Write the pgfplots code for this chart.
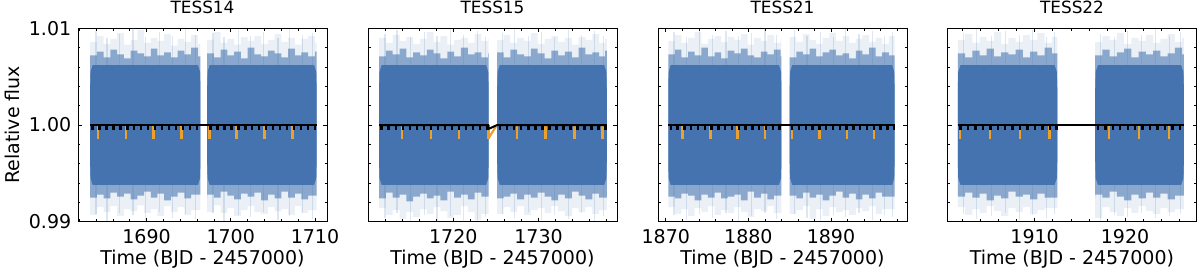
\documentclass[border=0pt]{standalone}
\usepackage{fontspec}
\setmainfont{DejaVu Sans}
\usepackage{pgfplots}
\pgfplotsset{compat=1.18}
\definecolor{band}{HTML}{4473AF}
\definecolor{orng}{HTML}{EDA12D}
\pgfplotsset{
 panel/.style={
  scale only axis, width=249pt, height=193.4pt,
  anchor=south west,
  ymin=0.99, ymax=1.01,
  ytick={0.99,1.00,1.01},
  minor ytick={0.992,0.994,0.996,0.998,1.002,1.004,1.006,1.008},
  tick align=inside, xtick pos=both, ytick pos=both,
  major tick length=4pt, minor tick length=2.5pt,
  every tick/.style={black, line width=0.6pt},
  axis line style={line width=0.9pt},
  tick label style={font=\fontsize{19}{22}\selectfont},
  xticklabel style={anchor=base, yshift=-21.6pt},
  yticklabel style={anchor=east, inner sep=0pt, xshift=-6.6pt},
  label style={font=\fontsize{19}{22}\selectfont},
  xlabel={Time (BJD - 2457000)},
  xlabel style={at={(axis description cs:0.5,0)}, anchor=base, yshift=-42.3pt},
  ylabel style={at={(axis description cs:-0.2361,0.5)}, anchor=base},
  title style={font=\fontsize{16.9}{19}\selectfont, at={(axis description cs:0.5,1)}, anchor=base, yshift=9.3pt},
  outer/.style={fill=band, fill opacity=0.11, draw=none, const plot, forget plot},
  mid/.style={fill=band, fill opacity=0.58, draw=none, const plot, forget plot},
  core/.style={fill=band, draw=none, forget plot},
  streak/.style={draw=none, forget plot, error bars/.cd, y dir=both, y explicit, error mark=none, error bar style={draw=band, line width=1.2pt, opacity=0.18}},
  odip/.style={draw=none, forget plot, error bars/.cd, y dir=minus, y explicit, error mark=none, error bar style={draw=orng, line width=2.4pt}},
  bdip/.style={draw=none, forget plot, error bars/.cd, y dir=minus, y explicit, error mark=none, error bar style={draw=black, line width=2.4pt}},
 }
}
\begin{document}
\begin{tikzpicture}
\path[use as bounding box] (0,0) rectangle (1200pt,279pt);
% ---------------- TESS14
\begin{axis}[panel, at={(78pt,57.3pt)}, xmin=1681.86, xmax=1711.43,
  xtick={1690,1700,1710}, xticklabels={1690,1700,1710}, minor xtick={1682,1684,...,1710},
  yticklabels={0.99,1.00,1.01}, ylabel={Relative flux}, title={TESS14}]
\addplot[outer] coordinates {(1683.3,1.0086)(1684.1,1.0092)(1684.9,1.0084)(1685.7,1.0089)(1686.5,1.0095)(1687.3,1.0083)(1688.1,1.0088)(1688.9,1.0098)(1689.7,1.0085)(1690.5,1.0090)(1691.3,1.0087)(1692.1,1.0094)(1692.9,1.0082)(1693.7,1.0089)(1694.5,1.0086)(1695.3,1.0093)(1696.1,1.0084)(1696.4,1.0084)
 (1696.4,0.9912)(1696.1,0.9912)(1695.3,0.9907)(1694.5,0.9915)(1693.7,0.9910)(1692.9,0.9916)(1692.1,0.9906)(1691.3,0.9913)(1690.5,0.9909)(1689.7,0.9917)(1688.9,0.9911)(1688.1,0.9913)(1687.3,0.9906)(1686.5,0.9916)(1685.7,0.9910)(1684.9,0.9915)(1684.1,0.9907)(1683.3,0.9912)} -- cycle;
\addplot[outer] coordinates {(1697.2,1.0088)(1698.0,1.0096)(1698.8,1.0085)(1699.6,1.0089)(1700.4,1.0083)(1701.2,1.0091)(1702.0,1.0087)(1702.8,1.0092)(1703.6,1.0084)(1704.4,1.0088)(1705.2,1.0094)(1706.0,1.0086)(1706.8,1.0090)(1707.6,1.0083)(1708.4,1.0089)(1709.2,1.0092)(1710.0,1.0085)(1710.2,1.0085)
 (1710.2,0.9912)(1710.0,0.9912)(1709.2,0.9909)(1708.4,0.9916)(1707.6,0.9907)(1706.8,0.9913)(1706.0,0.9911)(1705.2,0.9915)(1704.4,0.9908)(1703.6,0.9910)(1702.8,0.9916)(1702.0,0.9912)(1701.2,0.9906)(1700.4,0.9914)(1699.6,0.9909)(1698.8,0.9917)(1698.0,0.9910)(1697.2,0.9913)} -- cycle;
\addplot[streak] coordinates {(1684.0,1) += (0,0.0097) -= (0,0.0092) (1685.3,1) += (0,0.0090) -= (0,0.0099) (1686.8,1) += (0,0.0094) -= (0,0.0091) (1688.4,1) += (0,0.0100) -= (0,0.0093) (1689.9,1) += (0,0.0091) -= (0,0.0098) (1691.5,1) += (0,0.0096) -= (0,0.0090) (1693.1,1) += (0,0.0092) -= (0,0.0096) (1694.6,1) += (0,0.0099) -= (0,0.0092) (1695.8,1) += (0,0.0093) -= (0,0.0097)
 (1697.9,1) += (0,0.0095) -= (0,0.0091) (1699.2,1) += (0,0.0091) -= (0,0.0099) (1700.9,1) += (0,0.0098) -= (0,0.0093) (1702.3,1) += (0,0.0092) -= (0,0.0095) (1703.9,1) += (0,0.0096) -= (0,0.0090) (1705.6,1) += (0,0.0090) -= (0,0.0098) (1707.0,1) += (0,0.0099) -= (0,0.0094) (1708.5,1) += (0,0.0093) -= (0,0.0091) (1709.7,1) += (0,0.0095) -= (0,0.0097)};
\addplot[mid] coordinates {(1683.3,1.0072)(1684.1,1.0076)(1684.9,1.0070)(1685.7,1.0078)(1686.5,1.0073)(1687.3,1.0069)(1688.1,1.0077)(1688.9,1.0074)(1689.7,1.0071)(1690.5,1.0079)(1691.3,1.0072)(1692.1,1.0075)(1692.9,1.0070)(1693.7,1.0077)(1694.5,1.0073)(1695.3,1.0080)(1696.1,1.0071)(1696.4,1.0071)
 (1696.4,0.9928)(1696.1,0.9928)(1695.3,0.9924)(1694.5,0.9930)(1693.7,0.9926)(1692.9,0.9922)(1692.1,0.9929)(1691.3,0.9925)(1690.5,0.9931)(1689.7,0.9927)(1688.9,0.9923)(1688.1,0.9929)(1687.3,0.9926)(1686.5,0.9930)(1685.7,0.9924)(1684.9,0.9928)(1684.1,0.9925)(1683.3,0.9929)} -- cycle;
\addplot[mid] coordinates {(1697.2,1.0074)(1698.0,1.0070)(1698.8,1.0078)(1699.6,1.0072)(1700.4,1.0076)(1701.2,1.0069)(1702.0,1.0080)(1702.8,1.0073)(1703.6,1.0071)(1704.4,1.0077)(1705.2,1.0074)(1706.0,1.0070)(1706.8,1.0079)(1707.6,1.0072)(1708.4,1.0075)(1709.2,1.0071)(1710.0,1.0076)(1710.2,1.0076)
 (1710.2,0.9927)(1710.0,0.9927)(1709.2,0.9923)(1708.4,0.9929)(1707.6,0.9925)(1706.8,0.9931)(1706.0,0.9924)(1705.2,0.9928)(1704.4,0.9922)(1703.6,0.9930)(1702.8,0.9926)(1702.0,0.9929)(1701.2,0.9923)(1700.4,0.9927)(1699.6,0.9931)(1698.8,0.9925)(1698.0,0.9928)(1697.2,0.9924)} -- cycle;
\addplot[core] coordinates {(1683.3,0.9962)(1683.35,0.9945)(1683.6,0.9938)(1696.1,0.9938)(1696.35,0.9945)(1696.4,0.9962)(1696.4,1.0038)(1696.35,1.0055)(1696.1,1.0062)(1683.6,1.0062)(1683.35,1.0055)(1683.3,1.0038)} -- cycle;
\addplot[core] coordinates {(1697.2,0.9962)(1697.25,0.9945)(1697.5,0.9938)(1709.9,0.9938)(1710.15,0.9945)(1710.2,0.9962)(1710.2,1.0038)(1710.15,1.0055)(1709.9,1.0062)(1697.5,1.0062)(1697.25,1.0055)(1697.2,1.0038)} -- cycle;
\addplot[odip] coordinates {(1684.24,1) +- (0,0.00145) (1687.54,1) +- (0,0.00145) (1690.83,1) +- (0,0.00145) (1694.17,1) +- (0,0.00145) (1697.46,1) +- (0,0.00145) (1700.70,1) +- (0,0.00145) (1703.99,1) +- (0,0.00145) (1707.33,1) +- (0,0.00145)};
\addplot[black, line width=2pt, forget plot] coordinates {(1683.3,1) (1710.2,1)};
\addplot[bdip] coordinates {(1683.60,1) +- (0,0.0005) (1684.42,1) +- (0,0.0005) (1685.25,1) +- (0,0.0005) (1686.07,1) +- (0,0.0005) (1686.90,1) +- (0,0.0005) (1687.72,1) +- (0,0.0005) (1688.54,1) +- (0,0.0005) (1689.37,1) +- (0,0.0005) (1690.19,1) +- (0,0.0005) (1691.02,1) +- (0,0.0005) (1691.84,1) +- (0,0.0005) (1692.66,1) +- (0,0.0005) (1693.49,1) +- (0,0.0005) (1694.31,1) +- (0,0.0005) (1695.14,1) +- (0,0.0005) (1695.96,1) +- (0,0.0005)
 (1697.61,1) +- (0,0.0005) (1698.43,1) +- (0,0.0005) (1699.26,1) +- (0,0.0005) (1700.08,1) +- (0,0.0005) (1700.90,1) +- (0,0.0005) (1701.73,1) +- (0,0.0005) (1702.55,1) +- (0,0.0005) (1703.38,1) +- (0,0.0005) (1704.20,1) +- (0,0.0005) (1705.02,1) +- (0,0.0005) (1705.85,1) +- (0,0.0005) (1706.67,1) +- (0,0.0005) (1707.50,1) +- (0,0.0005) (1708.32,1) +- (0,0.0005) (1709.14,1) +- (0,0.0005) (1709.97,1) +- (0,0.0005)};
\end{axis}
% ---------------- TESS15
\begin{axis}[panel, at={(368pt,57.3pt)}, xmin=1710.0, xmax=1739.2,
  xtick={1720,1730}, xticklabels={1720,1730}, minor xtick={1710,1712,...,1738},
  yticklabels={}, title={TESS15}]
\addplot[outer] coordinates {(1711.3,1.0090)(1712.1,1.0085)(1712.9,1.0093)(1713.7,1.0087)(1714.5,1.0091)(1715.3,1.0084)(1716.1,1.0089)(1716.9,1.0096)(1717.7,1.0086)(1718.5,1.0092)(1719.3,1.0083)(1720.1,1.0088)(1720.9,1.0090)(1721.7,1.0085)(1722.5,1.0094)(1723.3,1.0087)(1724.1,1.0089)(1724.15,1.0089)
 (1724.15,0.9908)(1724.1,0.9908)(1723.3,0.9902)(1722.5,0.9910)(1721.7,0.9916)(1720.9,0.9907)(1720.1,0.9904)(1719.3,0.9911)(1718.5,0.9915)(1717.7,0.9908)(1716.9,0.9913)(1716.1,0.9905)(1715.3,0.9910)(1714.5,0.9903)(1713.7,0.9912)(1712.9,0.9907)(1712.1,0.9914)(1711.3,0.9909)} -- cycle;
\addplot[outer] coordinates {(1725.15,1.0088)(1725.9,1.0093)(1726.7,1.0085)(1727.5,1.0090)(1728.3,1.0087)(1729.1,1.0095)(1729.9,1.0084)(1730.7,1.0089)(1731.5,1.0092)(1732.3,1.0086)(1733.1,1.0090)(1733.9,1.0083)(1734.7,1.0091)(1735.5,1.0088)(1736.3,1.0094)(1737.1,1.0085)(1737.8,1.0089)(1738.0,1.0089)
 (1738.0,0.9912)(1737.8,0.9912)(1737.1,0.9908)(1736.3,0.9915)(1735.5,0.9910)(1734.7,0.9914)(1733.9,0.9906)(1733.1,0.9911)(1732.3,0.9916)(1731.5,0.9909)(1730.7,0.9914)(1729.9,0.9912)(1729.1,0.9907)(1728.3,0.9916)(1727.5,0.9910)(1726.7,0.9915)(1725.9,0.9908)(1725.15,0.9913)} -- cycle;
\addplot[streak] coordinates {(1712.0,1) += (0,0.0094) -= (0,0.0096) (1713.4,1) += (0,0.0098) -= (0,0.0091) (1715.0,1) += (0,0.0091) -= (0,0.0099) (1716.6,1) += (0,0.0096) -= (0,0.0093) (1718.1,1) += (0,0.0092) -= (0,0.0100) (1719.7,1) += (0,0.0099) -= (0,0.0094) (1721.2,1) += (0,0.0093) -= (0,0.0101) (1722.8,1) += (0,0.0097) -= (0,0.0099) (1723.8,1) += (0,0.0091) -= (0,0.0095)
 (1725.8,1) += (0,0.0095) -= (0,0.0092) (1727.2,1) += (0,0.0099) -= (0,0.0096) (1728.8,1) += (0,0.0092) -= (0,0.0090) (1730.3,1) += (0,0.0096) -= (0,0.0098) (1731.9,1) += (0,0.0091) -= (0,0.0093) (1733.5,1) += (0,0.0098) -= (0,0.0097) (1735.0,1) += (0,0.0093) -= (0,0.0091) (1736.6,1) += (0,0.0097) -= (0,0.0099) (1737.6,1) += (0,0.0092) -= (0,0.0094)};
\addplot[mid] coordinates {(1711.3,1.0071)(1712.1,1.0077)(1712.9,1.0073)(1713.7,1.0079)(1714.5,1.0070)(1715.3,1.0075)(1716.1,1.0072)(1716.9,1.0078)(1717.7,1.0074)(1718.5,1.0069)(1719.3,1.0076)(1720.1,1.0071)(1720.9,1.0080)(1721.7,1.0073)(1722.5,1.0075)(1723.3,1.0070)(1724.1,1.0074)(1724.15,1.0074)
 (1724.15,0.9926)(1724.1,0.9926)(1723.3,0.9930)(1722.5,0.9923)(1721.7,0.9928)(1720.9,0.9925)(1720.1,0.9931)(1719.3,0.9922)(1718.5,0.9927)(1717.7,0.9924)(1716.9,0.9929)(1716.1,0.9926)(1715.3,0.9921)(1714.5,0.9928)(1713.7,0.9925)(1712.9,0.9930)(1712.1,0.9924)(1711.3,0.9927)} -- cycle;
\addplot[mid] coordinates {(1725.15,1.0075)(1725.9,1.0070)(1726.7,1.0078)(1727.5,1.0073)(1728.3,1.0071)(1729.1,1.0079)(1729.9,1.0074)(1730.7,1.0069)(1731.5,1.0077)(1732.3,1.0072)(1733.1,1.0076)(1733.9,1.0070)(1734.7,1.0080)(1735.5,1.0073)(1736.3,1.0075)(1737.1,1.0071)(1737.8,1.0077)(1738.0,1.0077)
 (1738.0,0.9925)(1737.8,0.9925)(1737.1,0.9929)(1736.3,0.9923)(1735.5,0.9927)(1734.7,0.9931)(1733.9,0.9924)(1733.1,0.9928)(1732.3,0.9922)(1731.5,0.9926)(1730.7,0.9930)(1729.9,0.9925)(1729.1,0.9928)(1728.3,0.9923)(1727.5,0.9929)(1726.7,0.9926)(1725.9,0.9924)(1725.15,0.9927)} -- cycle;
\addplot[core] coordinates {(1711.3,0.9962)(1711.35,0.9945)(1711.6,0.9938)(1723.85,0.9938)(1724.1,0.9945)(1724.15,0.9962)(1724.15,1.0038)(1724.1,1.0055)(1723.85,1.0062)(1711.6,1.0062)(1711.35,1.0055)(1711.3,1.0038)} -- cycle;
\addplot[core] coordinates {(1725.15,0.9962)(1725.2,0.9945)(1725.45,0.9938)(1737.7,0.9938)(1737.95,0.9945)(1738.0,0.9962)(1738.0,1.0038)(1737.95,1.0055)(1737.7,1.0062)(1725.45,1.0062)(1725.2,1.0055)(1725.15,1.0038)} -- cycle;
\addplot[odip] coordinates {(1714.00,1) +- (0,0.00145) (1717.38,1) +- (0,0.00145) (1720.70,1) +- (0,0.00145) (1724.12,1) +- (0,0.00145) (1727.46,1) +- (0,0.00145) (1730.80,1) +- (0,0.00145) (1734.20,1) +- (0,0.00145) (1737.50,1) +- (0,0.00145)};
\addplot[orng, line width=2.2pt, forget plot] coordinates {(1724.12,0.99860) (1725.0,0.99985)};
\addplot[black, line width=2pt, forget plot] coordinates {(1711.3,1) (1724.1,1) (1724.15,0.99960) (1725.15,1) (1738.0,1)};
\addplot[bdip] coordinates {(1711.60,1) +- (0,0.0005) (1712.42,1) +- (0,0.0005) (1713.25,1) +- (0,0.0005) (1714.07,1) +- (0,0.0005) (1714.90,1) +- (0,0.0005) (1715.72,1) +- (0,0.0005) (1716.54,1) +- (0,0.0005) (1717.37,1) +- (0,0.0005) (1718.19,1) +- (0,0.0005) (1719.02,1) +- (0,0.0005) (1719.84,1) +- (0,0.0005) (1720.66,1) +- (0,0.0005) (1721.49,1) +- (0,0.0005) (1722.31,1) +- (0,0.0005) (1723.14,1) +- (0,0.0005) (1723.96,1) +- (0,0.0005)
 (1725.50,1) +- (0,0.0005) (1726.32,1) +- (0,0.0005) (1727.15,1) +- (0,0.0005) (1727.97,1) +- (0,0.0005) (1728.80,1) +- (0,0.0005) (1729.62,1) +- (0,0.0005) (1730.44,1) +- (0,0.0005) (1731.27,1) +- (0,0.0005) (1732.09,1) +- (0,0.0005) (1732.92,1) +- (0,0.0005) (1733.74,1) +- (0,0.0005) (1734.56,1) +- (0,0.0005) (1735.39,1) +- (0,0.0005) (1736.21,1) +- (0,0.0005) (1737.04,1) +- (0,0.0005) (1737.86,1) +- (0,0.0005)};
\end{axis}
% ---------------- TESS21
\begin{axis}[panel, at={(658pt,57.3pt)}, xmin=1869.06, xmax=1899.2,
  xtick={1870,1880,1890}, xticklabels={1870,1880,1890}, minor xtick={1870,1872,...,1898},
  yticklabels={}, title={TESS21}]
\addplot[outer] coordinates {(1870.3,1.0087)(1871.1,1.0093)(1871.9,1.0085)(1872.7,1.0090)(1873.5,1.0096)(1874.3,1.0084)(1875.1,1.0089)(1875.9,1.0092)(1876.7,1.0086)(1877.5,1.0091)(1878.3,1.0088)(1879.1,1.0094)(1879.9,1.0083)(1880.7,1.0090)(1881.5,1.0087)(1882.3,1.0093)(1883.1,1.0085)(1883.9,1.0089)(1884.0,1.0089)
 (1884.0,0.9909)(1883.9,0.9909)(1883.1,0.9916)(1882.3,0.9911)(1881.5,0.9913)(1880.7,0.9905)(1879.9,0.9910)(1879.1,0.9915)(1878.3,0.9909)(1877.5,0.9912)(1876.7,0.9907)(1875.9,0.9916)(1875.1,0.9910)(1874.3,0.9914)(1873.5,0.9906)(1872.7,0.9913)(1871.9,0.9908)(1871.1,0.9915)(1870.3,0.9911)} -- cycle;
\addplot[outer] coordinates {(1885.0,1.0091)(1885.8,1.0086)(1886.6,1.0094)(1887.4,1.0088)(1888.2,1.0084)(1889.0,1.0090)(1889.8,1.0095)(1890.6,1.0087)(1891.4,1.0092)(1892.2,1.0085)(1893.0,1.0089)(1893.8,1.0093)(1894.6,1.0086)(1895.4,1.0090)(1896.2,1.0084)(1897.0,1.0092)(1897.7,1.0092)
 (1897.7,0.9913)(1897.0,0.9913)(1896.2,0.9908)(1895.4,0.9916)(1894.6,0.9911)(1893.8,0.9914)(1893.0,0.9907)(1892.2,0.9912)(1891.4,0.9910)(1890.6,0.9915)(1889.8,0.9906)(1889.0,0.9913)(1888.2,0.9903)(1887.4,0.9916)(1886.6,0.9912)(1885.8,0.9908)(1885.0,0.9914)} -- cycle;
\addplot[streak] coordinates {(1871.0,1) += (0,0.0096) -= (0,0.0093) (1872.5,1) += (0,0.0091) -= (0,0.0098) (1874.1,1) += (0,0.0099) -= (0,0.0092) (1875.7,1) += (0,0.0093) -= (0,0.0096) (1877.3,1) += (0,0.0097) -= (0,0.0091) (1878.8,1) += (0,0.0092) -= (0,0.0099) (1880.4,1) += (0,0.0095) -= (0,0.0094) (1882.0,1) += (0,0.0100) -= (0,0.0091) (1883.4,1) += (0,0.0093) -= (0,0.0097)
 (1885.6,1) += (0,0.0098) -= (0,0.0092) (1887.1,1) += (0,0.0092) -= (0,0.0096) (1888.7,1) += (0,0.0096) -= (0,0.0099) (1890.3,1) += (0,0.0091) -= (0,0.0093) (1891.8,1) += (0,0.0099) -= (0,0.0095) (1893.4,1) += (0,0.0094) -= (0,0.0091) (1895.0,1) += (0,0.0097) -= (0,0.0098) (1896.5,1) += (0,0.0092) -= (0,0.0093) (1897.4,1) += (0,0.0096) -= (0,0.0095)};
\addplot[mid] coordinates {(1870.3,1.0073)(1871.1,1.0078)(1871.9,1.0070)(1872.7,1.0076)(1873.5,1.0072)(1874.3,1.0080)(1875.1,1.0071)(1875.9,1.0075)(1876.7,1.0069)(1877.5,1.0077)(1878.3,1.0074)(1879.1,1.0079)(1879.9,1.0072)(1880.7,1.0070)(1881.5,1.0076)(1882.3,1.0073)(1883.1,1.0078)(1883.9,1.0071)(1884.0,1.0071)
 (1884.0,0.9927)(1883.9,0.9927)(1883.1,0.9923)(1882.3,0.9929)(1881.5,0.9925)(1880.7,0.9931)(1879.9,0.9922)(1879.1,0.9928)(1878.3,0.9926)(1877.5,0.9924)(1876.7,0.9930)(1875.9,0.9925)(1875.1,0.9928)(1874.3,0.9922)(1873.5,0.9927)(1872.7,0.9929)(1871.9,0.9924)(1871.1,0.9926)(1870.3,0.9930)} -- cycle;
\addplot[mid] coordinates {(1885.0,1.0070)(1885.8,1.0076)(1886.6,1.0073)(1887.4,1.0079)(1888.2,1.0071)(1889.0,1.0075)(1889.8,1.0078)(1890.6,1.0072)(1891.4,1.0074)(1892.2,1.0069)(1893.0,1.0077)(1893.8,1.0073)(1894.6,1.0080)(1895.4,1.0071)(1896.2,1.0075)(1897.0,1.0072)(1897.7,1.0072)
 (1897.7,0.9926)(1897.0,0.9926)(1896.2,0.9930)(1895.4,0.9924)(1894.6,0.9928)(1893.8,0.9923)(1893.0,0.9929)(1892.2,0.9925)(1891.4,0.9931)(1890.6,0.9927)(1889.8,0.9922)(1889.0,0.9928)(1888.2,0.9925)(1887.4,0.9930)(1886.6,0.9924)(1885.8,0.9927)(1885.0,0.9929)} -- cycle;
\addplot[core] coordinates {(1870.3,0.9962)(1870.35,0.9945)(1870.6,0.9938)(1883.7,0.9938)(1883.95,0.9945)(1884.0,0.9962)(1884.0,1.0038)(1883.95,1.0055)(1883.7,1.0062)(1870.6,1.0062)(1870.35,1.0055)(1870.3,1.0038)} -- cycle;
\addplot[core] coordinates {(1885.0,0.9962)(1885.05,0.9945)(1885.3,0.9938)(1897.4,0.9938)(1897.65,0.9945)(1897.7,0.9962)(1897.7,1.0038)(1897.65,1.0055)(1897.4,1.0062)(1885.3,1.0062)(1885.05,1.0055)(1885.0,1.0038)} -- cycle;
\addplot[odip] coordinates {(1872.03,1) +- (0,0.00145) (1875.40,1) +- (0,0.00145) (1878.67,1) +- (0,0.00145) (1882.00,1) +- (0,0.00145) (1885.30,1) +- (0,0.00145) (1888.60,1) +- (0,0.00145) (1891.95,1) +- (0,0.00145) (1895.20,1) +- (0,0.00145)};
\addplot[black, line width=2pt, forget plot] coordinates {(1870.3,1) (1897.7,1)};
\addplot[bdip] coordinates {(1870.60,1) +- (0,0.0005) (1871.42,1) +- (0,0.0005) (1872.25,1) +- (0,0.0005) (1873.07,1) +- (0,0.0005) (1873.90,1) +- (0,0.0005) (1874.72,1) +- (0,0.0005) (1875.54,1) +- (0,0.0005) (1876.37,1) +- (0,0.0005) (1877.19,1) +- (0,0.0005) (1878.02,1) +- (0,0.0005) (1878.84,1) +- (0,0.0005) (1879.66,1) +- (0,0.0005) (1880.49,1) +- (0,0.0005) (1881.31,1) +- (0,0.0005) (1882.14,1) +- (0,0.0005) (1882.96,1) +- (0,0.0005) (1883.78,1) +- (0,0.0005)
 (1885.30,1) +- (0,0.0005) (1886.12,1) +- (0,0.0005) (1886.95,1) +- (0,0.0005) (1887.77,1) +- (0,0.0005) (1888.60,1) +- (0,0.0005) (1889.42,1) +- (0,0.0005) (1890.24,1) +- (0,0.0005) (1891.07,1) +- (0,0.0005) (1891.89,1) +- (0,0.0005) (1892.72,1) +- (0,0.0005) (1893.54,1) +- (0,0.0005) (1894.36,1) +- (0,0.0005) (1895.19,1) +- (0,0.0005) (1896.01,1) +- (0,0.0005) (1896.84,1) +- (0,0.0005) (1897.66,1) +- (0,0.0005)};
\end{axis}
% ---------------- TESS22
\begin{axis}[panel, at={(947.5pt,57.3pt)}, xmin=1900.36, xmax=1927.9,
  xtick={1910,1920}, xticklabels={1910,1920}, minor xtick={1902,1904,...,1926},
  yticklabels={}, title={TESS22}]
\addplot[outer] coordinates {(1901.5,1.0088)(1902.3,1.0094)(1903.1,1.0085)(1903.9,1.0091)(1904.7,1.0087)(1905.5,1.0096)(1906.3,1.0084)(1907.1,1.0090)(1907.9,1.0086)(1908.7,1.0093)(1909.5,1.0088)(1910.3,1.0095)(1911.1,1.0085)(1911.9,1.0091)(1912.5,1.0091)
 (1912.5,0.9914)(1911.9,0.9914)(1911.1,0.9912)(1910.3,0.9908)(1909.5,0.9915)(1908.7,0.9910)(1907.9,0.9914)(1907.1,0.9906)(1906.3,0.9911)(1905.5,0.9916)(1904.7,0.9909)(1903.9,0.9913)(1903.1,0.9907)(1902.3,0.9915)(1901.5,0.9910)} -- cycle;
\addplot[outer] coordinates {(1916.7,1.0086)(1917.5,1.0092)(1918.3,1.0088)(1919.1,1.0095)(1919.9,1.0084)(1920.7,1.0090)(1921.5,1.0087)(1922.3,1.0093)(1923.1,1.0085)(1923.9,1.0089)(1924.7,1.0094)(1925.5,1.0086)(1926.3,1.0090)(1926.5,1.0090)
 (1926.5,0.9913)(1926.3,0.9913)(1925.5,0.9910)(1924.7,0.9914)(1923.9,0.9908)(1923.1,0.9911)(1922.3,0.9916)(1921.5,0.9909)(1920.7,0.9914)(1919.9,0.9906)(1919.1,0.9910)(1918.3,0.9915)(1917.5,0.9904)(1916.7,0.9912)} -- cycle;
\addplot[streak] coordinates {(1902.1,1) += (0,0.0095) -= (0,0.0092) (1903.6,1) += (0,0.0099) -= (0,0.0097) (1905.2,1) += (0,0.0092) -= (0,0.0094) (1906.8,1) += (0,0.0097) -= (0,0.0091) (1908.3,1) += (0,0.0093) -= (0,0.0098) (1909.8,1) += (0,0.0098) -= (0,0.0093) (1911.3,1) += (0,0.0091) -= (0,0.0096) (1912.2,1) += (0,0.0096) -= (0,0.0092)
 (1917.3,1) += (0,0.0094) -= (0,0.0099) (1918.8,1) += (0,0.0091) -= (0,0.0093) (1920.3,1) += (0,0.0097) -= (0,0.0095) (1921.8,1) += (0,0.0093) -= (0,0.0091) (1923.4,1) += (0,0.0099) -= (0,0.0096) (1924.9,1) += (0,0.0092) -= (0,0.0094) (1926.1,1) += (0,0.0096) -= (0,0.0092)};
\addplot[mid] coordinates {(1901.5,1.0074)(1902.3,1.0070)(1903.1,1.0077)(1903.9,1.0072)(1904.7,1.0079)(1905.5,1.0071)(1906.3,1.0075)(1907.1,1.0073)(1907.9,1.0078)(1908.7,1.0070)(1909.5,1.0076)(1910.3,1.0072)(1911.1,1.0080)(1911.9,1.0074)(1912.5,1.0074)
 (1912.5,0.9925)(1911.9,0.9925)(1911.1,0.9929)(1910.3,0.9923)(1909.5,0.9928)(1908.7,0.9926)(1907.9,0.9931)(1907.1,0.9924)(1906.3,0.9927)(1905.5,0.9922)(1904.7,0.9929)(1903.9,0.9925)(1903.1,0.9930)(1902.3,0.9926)(1901.5,0.9928)} -- cycle;
\addplot[mid] coordinates {(1916.7,1.0072)(1917.5,1.0078)(1918.3,1.0071)(1919.1,1.0075)(1919.9,1.0079)(1920.7,1.0070)(1921.5,1.0076)(1922.3,1.0073)(1923.1,1.0077)(1923.9,1.0071)(1924.7,1.0074)(1925.5,1.0080)(1926.3,1.0073)(1926.5,1.0073)
 (1926.5,0.9927)(1926.3,0.9927)(1925.5,0.9923)(1924.7,0.9929)(1923.9,0.9925)(1923.1,0.9930)(1922.3,0.9924)(1921.5,0.9928)(1920.7,0.9922)(1919.9,0.9926)(1919.1,0.9931)(1918.3,0.9925)(1917.5,0.9928)(1916.7,0.9924)} -- cycle;
\addplot[core] coordinates {(1901.5,0.9962)(1901.55,0.9945)(1901.8,0.9938)(1912.2,0.9938)(1912.45,0.9945)(1912.5,0.9962)(1912.5,1.0038)(1912.45,1.0055)(1912.2,1.0062)(1901.8,1.0062)(1901.55,1.0055)(1901.5,1.0038)} -- cycle;
\addplot[core] coordinates {(1916.7,0.9962)(1916.75,0.9945)(1917.0,0.9938)(1926.2,0.9938)(1926.45,0.9945)(1926.5,0.9962)(1926.5,1.0038)(1926.45,1.0055)(1926.2,1.0062)(1917.0,1.0062)(1916.75,1.0055)(1916.7,1.0038)} -- cycle;
\addplot[odip] coordinates {(1901.76,1) +- (0,0.00145) (1905.05,1) +- (0,0.00145) (1908.35,1) +- (0,0.00145) (1911.65,1) +- (0,0.00145) (1918.24,1) +- (0,0.00145) (1921.54,1) +- (0,0.00145) (1924.84,1) +- (0,0.00145)};
\addplot[black, line width=2pt, forget plot] coordinates {(1901.5,1) (1926.5,1)};
\addplot[bdip] coordinates {(1901.80,1) +- (0,0.0005) (1902.62,1) +- (0,0.0005) (1903.45,1) +- (0,0.0005) (1904.27,1) +- (0,0.0005) (1905.10,1) +- (0,0.0005) (1905.92,1) +- (0,0.0005) (1906.74,1) +- (0,0.0005) (1907.57,1) +- (0,0.0005) (1908.39,1) +- (0,0.0005) (1909.22,1) +- (0,0.0005) (1910.04,1) +- (0,0.0005) (1910.86,1) +- (0,0.0005) (1911.69,1) +- (0,0.0005) (1912.40,1) +- (0,0.0005)
 (1917.00,1) +- (0,0.0005) (1917.82,1) +- (0,0.0005) (1918.65,1) +- (0,0.0005) (1919.47,1) +- (0,0.0005) (1920.30,1) +- (0,0.0005) (1921.12,1) +- (0,0.0005) (1921.94,1) +- (0,0.0005) (1922.77,1) +- (0,0.0005) (1923.59,1) +- (0,0.0005) (1924.42,1) +- (0,0.0005) (1925.24,1) +- (0,0.0005) (1926.06,1) +- (0,0.0005)};
\end{axis}
\end{tikzpicture}
\end{document}
